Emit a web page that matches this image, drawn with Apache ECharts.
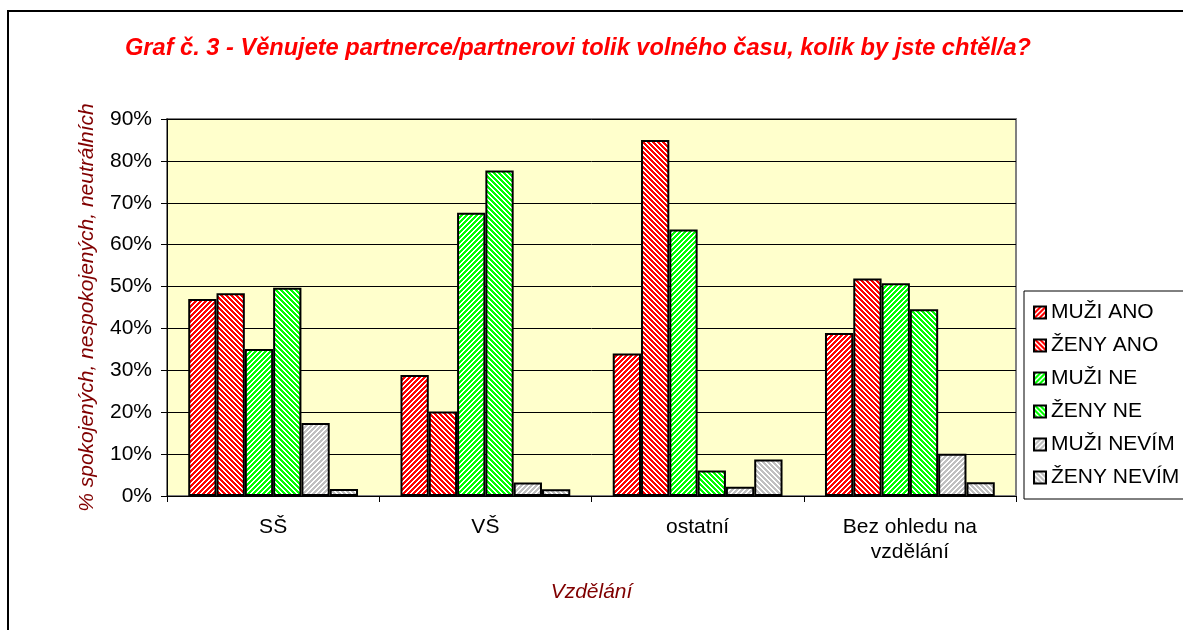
<!DOCTYPE html>
<html>
<head>
<meta charset="utf-8">
<script src="https://cdn.jsdelivr.net/npm/echarts@6/dist/echarts.min.js"></script>
<style>
  html, body { margin: 0; padding: 0; background: #fff; }
  #chart { width: 1183px; height: 630px; }
</style>
</head>
<body>
<div id="chart"></div>
<script>
  // data (percent)
  const categories = ['SŠ', 'VŠ', 'ostatní', 'Bez ohledu na\nvzdělání']
  const seriesNames = ['MUŽI ANO', 'ŽENY ANO', 'MUŽI NE', 'ŽENY NE', 'MUŽI NEVÍM', 'ŽENY NEVÍM']
  const muziAno = [47.0, 28.9, 34.0, 38.9]
  const zenyAno = [48.4, 20.2, 85.0, 51.9]
  const muziNe = [35.1, 67.6, 63.6, 50.8]
  const zenyNe = [49.7, 77.7, 6.1, 44.6]
  const muziNevim = [17.4, 3.2, 2.2, 10.1]
  const zenyNevim = [1.7, 1.6, 8.7, 3.3]
  const yTicks = [0, 10, 20, 30, 40, 50, 60, 70, 80, 90]

  // diagonal hatch, like the excel fill patterns
  function hatch(color, dir) {
    const n = 5
    const c = document.createElement('canvas')
    c.width = n
    c.height = n
    const ctx = c.getContext('2d')
    ctx.fillStyle = '#ffffff'
    ctx.fillRect(0, 0, n, n)
    ctx.fillStyle = color
    for (let x = 0; x < n; x++) {
      for (let y = 0; y < n; y++) {
        const k = dir === '/' ? (x + y) % n : (x - y + n * 10) % n
        if (k < 3) ctx.fillRect(x, y, 1, 1)
      }
    }
    return {image: c, repeat: 'repeat'}
  }

  const fills = [
    hatch('#ff0000', '/'),
    hatch('#ff0000', '\\'),
    hatch('#00ff00', '/'),
    hatch('#00ff00', '\\'),
    hatch('#c0c0c0', '/'),
    hatch('#c0c0c0', '\\')
  ]
  const values = [muziAno, zenyAno, muziNe, zenyNe, muziNevim, zenyNevim]
  const font = 'Liberation Sans, Arial, sans-serif'

  const myChart = echarts.init(document.getElementById('chart'))
  const option = {
    animation: false,
    backgroundColor: '#ffffff',
    textStyle: {fontFamily: font},
    title: {
      text: 'Graf č. 3 - Věnujete partnerce/partnerovi tolik volného času, kolik by jste chtěl/a?',
      left: 120,
      top: 31,
      textStyle: {
        color: '#ff0000',
        fontSize: 23.6,
        fontStyle: 'italic',
        fontWeight: 'bold',
        fontFamily: font
      }
    },
    graphic: [
      {
        type: 'rect',
        shape: {x: 8, y: 11, width: 1300, height: 700},
        style: {fill: null, stroke: '#000', lineWidth: 2},
        silent: true
      }
    ],
    legend: {
      orient: 'vertical',
      left: 1024,
      top: 291,
      data: seriesNames,
      icon: 'rect',
      itemWidth: 12,
      itemHeight: 12,
      itemGap: 12,
      padding: [11, 40, 11, 9],
      borderColor: '#000',
      borderWidth: 1,
      textStyle: {
        color: '#000',
        fontSize: 21,
        lineHeight: 21,
        fontFamily: font
      }
    },
    grid: {
      left: 167,
      right: 167,
      top: 119,
      bottom: 134,
      show: true,
      backgroundColor: '#ffffcc',
      borderColor: '#808080',
      borderWidth: 2
    },
    xAxis: {
      type: 'category',
      data: categories,
      name: 'Vzdělání',
      nameLocation: 'middle',
      nameGap: 86,
      nameTextStyle: {color: '#800000', fontSize: 21, fontStyle: 'italic'},
      axisLine: {lineStyle: {color: '#000', width: 1}},
      axisTick: {show: true, length: 6, lineStyle: {color: '#000'}},
      axisLabel: {color: '#000', fontSize: 21, lineHeight: 25, margin: 19}
    },
    yAxis: {
      type: 'value',
      min: yTicks[0],
      max: yTicks[yTicks.length - 1],
      interval: 10,
      name: '% spokojených, nespokojených, neutrálních',
      nameLocation: 'middle',
      nameGap: 69,
      nameRotate: 90,
      nameTextStyle: {color: '#800000', fontSize: 21, fontStyle: 'italic'},
      axisLine: {show: true, lineStyle: {color: '#000', width: 1}},
      axisTick: {show: true, length: 6, lineStyle: {color: '#000'}},
      axisLabel: {color: '#000', fontSize: 21, margin: 15, formatter: '{value}%'},
      splitLine: {lineStyle: {color: '#000', width: 1}}
    },
    series: seriesNames.map((name, i) => ({
      name: name,
      type: 'bar',
      data: values[i],
      barGap: '0%',
      barCategoryGap: '20%',
      itemStyle: {color: fills[i], borderColor: '#000', borderWidth: 2}
    }))
  }
  myChart.setOption(option)
</script>
</body>
</html>
